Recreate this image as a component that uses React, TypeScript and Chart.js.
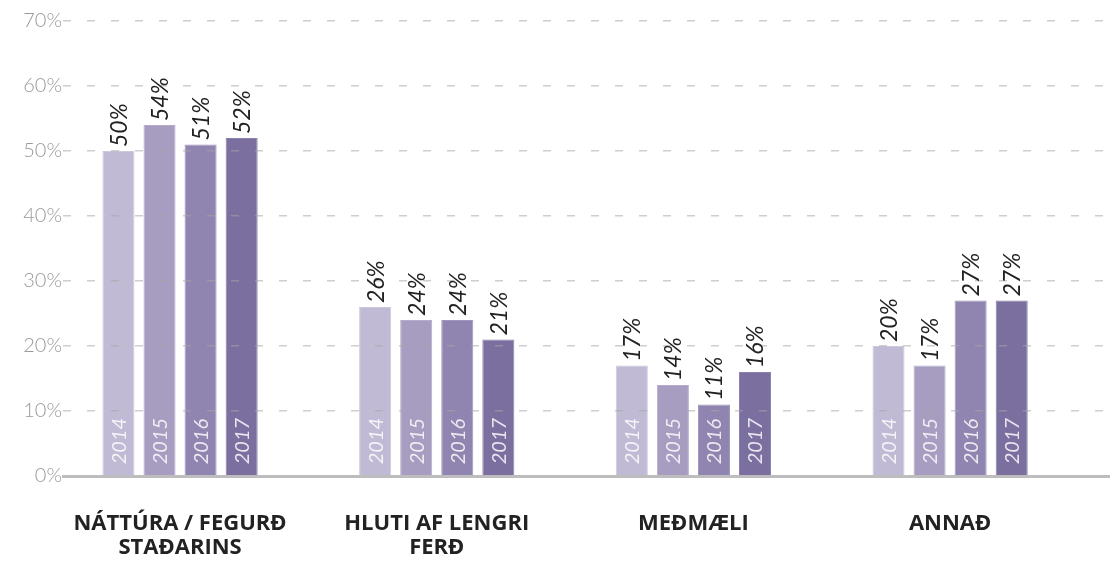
import React, { useEffect, useRef } from "react";
import { Chart, registerables } from "chart.js";

Chart.register(...registerables);

const categories: string[][] = [
  ["NÁTTÚRA / FEGURÐ", "STAÐARINS"],
  ["HLUTI AF LENGRI", "FERÐ"],
  ["MEÐMÆLI"],
  ["ANNAÐ"],
];
const years = ["2014", "2015", "2016", "2017"];
const values2014 = [50, 26, 17, 20];
const values2015 = [54, 24, 14, 17];
const values2016 = [51, 24, 11, 27];
const values2017 = [52, 21, 16, 27];
const yTicks = [0, 10, 20, 30, 40, 50, 60, 70];

const seriesValues = [values2014, values2015, values2016, values2017];
const barColors = ["#c0bad5", "#a79dc1", "#9085b0", "#7b6fa0"];
const barEdges = ["#cdc8de", "#b5accb", "#9e95bb", "#8a7fab"];

const FONT = "Lato, 'Open Sans', sans-serif";
const CAT_FONT = "'Open Sans', Lato, sans-serif";

const labelPlugin = {
  id: "barLabels",
  afterDraw(chart: any) {
    const ctx = chart.ctx;
    chart.data.datasets.forEach((ds: any, di: number) => {
      const meta = chart.getDatasetMeta(di);
      meta.data.forEach((el: any, i: number) => {
        const v = ds.data[i].y;
        const x = el.x;
        const top = el.y;
        const bottom = el.base;
        ctx.save();
        ctx.translate(x, top - 4);
        ctx.rotate(-Math.PI / 2);
        ctx.font = `italic 23px ${FONT}`;
        ctx.fillStyle = "#222222";
        ctx.textAlign = "left";
        ctx.textBaseline = "middle";
        ctx.fillText(`${v}%`, 0, 1);
        ctx.restore();
        ctx.save();
        ctx.translate(x, bottom - 11);
        ctx.rotate(-Math.PI / 2);
        ctx.font = `italic 20px ${FONT}`;
        ctx.fillStyle = "rgba(255,255,255,0.82)";
        ctx.textAlign = "left";
        ctx.textBaseline = "middle";
        ctx.fillText(ds.label, 0, 1);
        ctx.restore();
      });
    });
  },
};

export default function App() {
  const ref = useRef<HTMLCanvasElement | null>(null);
  useEffect(() => {
    if (!ref.current) return;
    const chart = new Chart(ref.current, {
      type: "bar",
      data: {
        datasets: years.map((yr, si) => ({
          label: yr,
          data: seriesValues[si].map((v, i) => ({ x: i, y: v })),
          backgroundColor: barColors[si],
          borderColor: barEdges[si],
          borderWidth: 1,
          categoryPercentage: 0.64,
          barPercentage: 0.78,
        })),
      },
      options: {
        animation: false,
        responsive: true,
        maintainAspectRatio: false,
        layout: { padding: { top: 21, right: 8, left: 0, bottom: 0 } },
        plugins: {
          legend: { display: false },
          tooltip: { enabled: false },
        },
        scales: {
          x: {
            type: "linear",
            offset: false,
            min: -0.456,
            max: 3.619,
            afterBuildTicks: (scale: any) => {
              scale.ticks = categories.map((_, i) => ({ value: i }));
            },
            afterFit: (scale: any) => {
              scale.height = 89;
            },
            grid: { display: false, drawTicks: false },
            border: { display: true, color: "#bdbdbd", width: 3, z: 1 },
            ticks: {
              autoSkip: false,
              maxRotation: 0,
              minRotation: 0,
              padding: 36,
              color: "#222222",
              font: { family: CAT_FONT, size: 22, weight: "bold", lineHeight: 1.08 },
              callback: (v: any) => categories[v] ?? "",
            },
          },
          y: {
            min: 0,
            max: 70,
            afterBuildTicks: (scale: any) => {
              scale.ticks = yTicks.map((v) => ({ value: v }));
            },
            afterFit: (scale: any) => {
              scale.width = 63;
            },
            grid: {
              drawTicks: false,
              z: 1,
              lineWidth: 1.5,
              color: (c: any) => (c.tick && c.tick.value === 0 ? "rgba(0,0,0,0)" : "rgba(165,165,165,0.55)"),
            },
            border: { display: false, dash: [8, 16] },
            ticks: {
              padding: 1,
              color: "#9a9a9a",
              font: { family: FONT, size: 20, weight: "300" },
              callback: (v: any) => `${v}%`,
            },
          },
        },
      },
      plugins: [labelPlugin],
    } as any);
    return () => chart.destroy();
  }, []);
  return (
    <div style={{ position: "absolute", left: 0, top: 0, width: 1117, height: 565, background: "#fff" }}>
      <canvas ref={ref} />
    </div>
  );
}
